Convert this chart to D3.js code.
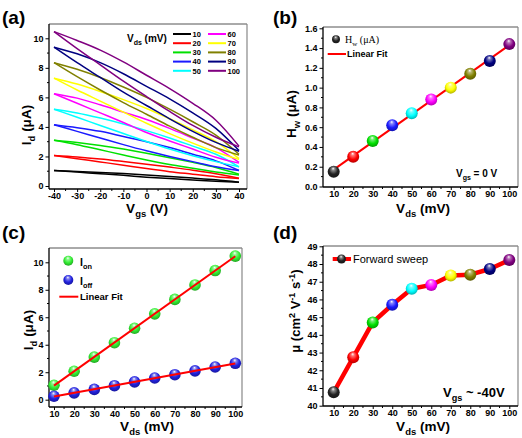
<!DOCTYPE html>
<html><head><meta charset="utf-8">
<script src="https://cdn.jsdelivr.net/npm/d3@7"></script>
<style>body{margin:0;background:#fff}svg{display:block}text{font-family:"Liberation Sans",Arial,sans-serif}</style>
</head><body><svg id="c" width="522" height="438"></svg>
<script>
// ---------- data ----------
const vgsPoints = [-40,-30,-20,-10,0,10,20,30,40];
const vdsLevels = [10,20,30,40,50,60,70,80,90,100];
const vdsColors = ["#000000","#ff0000","#00e000","#1a1aff","#00ffff","#ff00ff","#ffff00","#808000","#000080","#800080"];
// panel (a): transfer curves, one branch above, one below (µA)
const loopUpper = [
 [1.05,0.99,0.92,0.84,0.75,0.65,0.54,0.42,0.26],
 [2.07,1.97,1.83,1.66,1.48,1.28,1.07,0.83,0.52],
 [3.1,2.95,2.75,2.5,2.22,1.92,1.6,1.25,0.8],
 [4.15,3.95,3.7,3.35,3.0,2.6,2.15,1.7,1.05],
 [5.2,4.95,4.6,4.2,3.75,3.25,2.7,2.15,1.3],
 [6.25,5.95,5.5,5.0,4.5,3.9,3.25,2.6,1.6],
 [7.3,6.9,6.4,5.85,5.25,4.55,3.8,3.0,1.85],
 [8.35,7.9,7.35,6.7,6.0,5.2,4.35,3.45,2.15],
 [9.4,8.95,8.35,7.6,6.75,5.9,4.95,3.9,2.4],
 [10.45,9.85,9.2,8.4,7.5,6.6,5.6,4.45,2.7]
];
const loopLower = [
 [1.05,0.94,0.83,0.72,0.60,0.50,0.41,0.32,0.25],
 [2.07,1.85,1.63,1.41,1.18,0.97,0.8,0.63,0.5],
 [3.1,2.8,2.45,2.1,1.76,1.45,1.2,0.95,0.75],
 [4.15,3.7,3.25,2.8,2.38,2.0,1.65,1.3,1.05],
 [5.2,4.65,4.1,3.55,3.01,2.5,2.05,1.65,1.3],
 [6.25,5.6,4.95,4.3,3.62,3.05,2.5,1.95,1.55],
 [7.3,6.5,5.75,5.0,4.25,3.55,2.9,2.3,1.8],
 [8.35,7.4,6.5,5.65,4.86,4.05,3.3,2.6,2.1],
 [9.4,8.35,7.35,6.35,5.45,4.55,3.7,2.95,2.35],
 [10.45,9.3,8.2,7.1,6.06,5.05,4.1,3.3,2.65]
];
const hwValues = [0.15,0.30,0.46,0.62,0.74,0.88,1.00,1.14,1.27,1.44];
const ionValues = [1.05,2.07,3.1,4.15,5.2,6.25,7.3,8.35,9.4,10.45];
const ioffValues = [0.25,0.5,0.75,1.02,1.3,1.58,1.82,2.1,2.38,2.65];
const mobilityValues = [40.76,42.73,44.7,45.7,46.6,46.82,47.35,47.4,47.72,48.22];
const ticksA_x = [-40,-30,-20,-10,0,10,20,30,40];
const ticksA_y = [0,2,4,6,8,10];
const ticksVds = [10,20,30,40,50,60,70,80,90,100];
const ticksB_y = [0,0.2,0.4,0.6,0.8,1.0,1.2,1.4,1.6];
const ticksC_y = [0,2,4,6,8,10];
const ticksD_y = [40,41,42,43,44,45,46,47,48,49];

// ---------- helpers ----------
const svg = d3.select("#c");
const defs = svg.append("defs");
function sphereGrad(color, id){
  const g = defs.append("radialGradient").attr("id",id).attr("cx","0.5").attr("cy","0.45").attr("r","0.6").attr("fx","0.45").attr("fy","0.22");
  const c = d3.color(color);
  g.append("stop").attr("offset","0").attr("stop-color","#ffffff");
  g.append("stop").attr("offset","0.22").attr("stop-color",d3.interpolateRgb(color,"#ffffff")(0.45));
  g.append("stop").attr("offset","0.6").attr("stop-color",color);
  g.append("stop").attr("offset","1").attr("stop-color",c.darker(1.2).formatHex());
  return "url(#"+id+")";
}
const sphereFills = vdsColors.map((c,i)=>sphereGrad(c==="#000000"?"#222222":c,"sg"+i));
const greenFill = sphereGrad("#33ee33","sgGreen");
const blueFill = sphereGrad("#2222e0","sgBlue");

function rich(g, x, y, parts, o){
  const size=o.size;
  const t=g.append("text").attr("x",x).attr("y",y).attr("font-size",size)
    .attr("font-weight",o.weight||"bold").attr("text-anchor",o.anchor||"start").attr("fill","#000");
  if(o.family) t.style("font-family",o.family);
  if(o.rotate) t.attr("transform",`rotate(-90,${x},${y})`);
  let cur=0;
  parts.forEach(([s,k])=>{
    const target = k==="sub"? size*0.3 : k==="sup"? -size*0.42 : 0;
    const sp=t.append("tspan").attr("dy",target-cur).text(s);
    if(k) sp.attr("font-size",size*0.7);
    cur=target;
  });
  return t;
}

function panel(cfg){
  const g = svg.append("g");
  const {x,y,frame} = cfg;
  const mk = g.append("g").attr("stroke","#000").attr("stroke-width",1);
  cfg.xMinor.forEach(v=>mk.append("line").attr("x1",x(v)).attr("x2",x(v)).attr("y1",frame.b).attr("y2",frame.b+2));
  cfg.yMinor.forEach(v=>mk.append("line").attr("y1",y(v)).attr("y2",y(v)).attr("x1",frame.l).attr("x2",frame.l-2));
  const fx = cfg.xFmt||d3.format("d"), fy = cfg.yFmt||d3.format("d");
  const ax = g.append("g").attr("transform",`translate(0,${frame.b})`)
    .call(d3.axisBottom(x).tickValues(cfg.xTicks).tickSize(3).tickPadding(1).tickSizeOuter(0).tickFormat(fx));
  const ay = g.append("g").attr("transform",`translate(${frame.l},0)`)
    .call(d3.axisLeft(y).tickValues(cfg.yTicks).tickSize(3.5).tickPadding(2).tickSizeOuter(0).tickFormat(fy));
  [ax,ay].forEach(a=>{a.select(".domain").remove();
    a.selectAll("text").attr("font-size",9).attr("font-weight","bold").style("font-family",'"Liberation Sans",Arial,sans-serif').attr("fill","#000");
    a.selectAll("line").attr("stroke","#000").attr("stroke-width",1);});
  ax.selectAll("text").text(d=> fx(d).replace("−","-"));
  ay.selectAll("text").text(d=> fy(d).replace("−","-"));
  g.append("line").attr("x1",frame.l).attr("x2",frame.r).attr("y1",frame.t).attr("y2",frame.t).attr("stroke","#555").attr("stroke-width",1);
  g.append("line").attr("x1",frame.r).attr("x2",frame.r).attr("y1",frame.t).attr("y2",frame.b).attr("stroke","#888").attr("stroke-width",1.2);
  g.append("line").attr("x1",frame.l).attr("x2",frame.r).attr("y1",frame.b).attr("y2",frame.b).attr("stroke","#000").attr("stroke-width",1.3);
  g.append("line").attr("x1",frame.l).attr("x2",frame.l).attr("y1",frame.t).attr("y2",frame.b).attr("stroke","#000").attr("stroke-width",1.3);
  return g;
}
const minors = (a,b,s)=>d3.range(a,b+1e-9,s);

// ---------- panel (a) ----------
{
  const x = d3.scaleLinear().domain([-40,40]).range([54,239]);
  const y = d3.scaleLinear().domain([0,10]).range([186,38.3]);
  const g = panel({x,y,frame:{l:49,r:247,t:24,b:189},xTicks:ticksA_x,yTicks:ticksA_y,
    xMinor:minors(-35,35,10),yMinor:minors(1,9,2)});
  const line = d3.line().x((d,i)=>x(vgsPoints[i])).y(d=>y(d)).curve(d3.curveMonotoneX);
  vdsLevels.forEach((v,i)=>{
    [loopUpper[i],loopLower[i]].forEach(arr=>g.append("path").attr("d",line(arr)).attr("fill","none")
      .attr("stroke",vdsColors[i]).attr("stroke-width",1.5));
  });
  rich(g,127,41.5,[["V"],["ds","sub"],[" (mV)"]],{size:10});
  vdsLevels.forEach((v,i)=>{
    const col=Math.floor(i/5), row=i%5;
    const ly = 34+row*9.2;
    const lx = col? 208:173;
    g.append("line").attr("x1",lx).attr("x2",lx+18).attr("y1",ly).attr("y2",ly).attr("stroke",vdsColors[i]).attr("stroke-width",2);
    g.append("text").attr("x",lx+19.5).attr("y",ly+2.8).attr("font-size",7.5).attr("font-weight","bold").text(v);
  });
  rich(g,147,213,[["V"],["gs","sub"],[" (V)"]],{size:13.5,anchor:"middle"});
  rich(g,31,125,[["I"],["d","sub"],[" (μA)"]],{size:13.5,anchor:"middle",rotate:true});
  g.append("text").attr("x",2).attr("y",24).attr("font-size",19).attr("font-weight","bold").text("(a)");
}

function linFit(xs,ys){
  const mx=d3.mean(xs), my=d3.mean(ys);
  const b=d3.sum(xs,(v,i)=>(v-mx)*(ys[i]-my))/d3.sum(xs,v=>(v-mx)*(v-mx));
  return [b, my-b*mx];
}
// ---------- panel (b) ----------
{
  const x = d3.scaleLinear().domain([10,100]).range([333.7,509.3]);
  const y = d3.scaleLinear().domain([0,1.6]).range([186.5,28.3]);
  const g = panel({x,y,frame:{l:323,r:518,t:27,b:187},xTicks:ticksVds,yTicks:ticksB_y,
    xMinor:minors(15,95,10),yMinor:minors(0.1,1.5,0.2),yFmt:d3.format(".1f")});
  const [b,a]=linFit(vdsLevels,hwValues);
  g.append("line").attr("x1",x(10)).attr("x2",x(100)).attr("y1",y(a+b*10)).attr("y2",y(a+b*100)).attr("stroke","#ff0000").attr("stroke-width",2);
  vdsLevels.forEach((v,i)=>g.append("circle").attr("cx",x(v)).attr("cy",y(hwValues[i])).attr("r",6).attr("fill",sphereFills[i]));
  g.append("circle").attr("cx",336).attr("cy",39.3).attr("r",4).attr("fill",sphereFills[0]);
  rich(g,345,43,[["H"],["w","sub"],[" (μA)"]],{size:10,weight:"normal",family:'"Liberation Serif","Times New Roman",serif'});
  g.append("line").attr("x1",327.7).attr("x2",346).attr("y1",54).attr("y2",54).attr("stroke","#ff0000").attr("stroke-width",2);
  g.append("text").attr("x",347).attr("y",57.3).attr("font-size",9).attr("font-weight","bold").text("Linear Fit");
  rich(g,456,177,[["V"],["gs","sub"],[" = 0 V"]],{size:10});
  rich(g,423,213,[["V"],["ds","sub"],[" (mV)"]],{size:13.5,anchor:"middle"});
  rich(g,296,114,[["H"],["w","sub"],[" (μA)"]],{size:13.5,anchor:"middle",rotate:true});
  g.append("text").attr("x",273).attr("y",24).attr("font-size",19).attr("font-weight","bold").text("(b)");
}

// ---------- panel (c) ----------
{
  const x = d3.scaleLinear().domain([10,100]).range([54,235.3]);
  const y = d3.scaleLinear().domain([0,10]).range([399.7,262.3]);
  const g = panel({x,y,frame:{l:49,r:242,t:248,b:407},xTicks:ticksVds,yTicks:ticksC_y,
    xMinor:minors(15,95,10),yMinor:minors(1,9,2)});
  [[ionValues,greenFill],[ioffValues,blueFill]].forEach(([vals,fill])=>{
    vdsLevels.forEach((v,i)=>g.append("circle").attr("cx",x(v)).attr("cy",y(vals[i])).attr("r",5.8).attr("fill",fill));
  });
  [ionValues,ioffValues].forEach(vals=>{
    const [b,a]=linFit(vdsLevels,vals);
    g.append("line").attr("x1",x(10)).attr("x2",x(100)).attr("y1",y(a+b*10)).attr("y2",y(a+b*100)).attr("stroke","#ff0000").attr("stroke-width",2);
  });
  g.append("circle").attr("cx",68.3).attr("cy",260.7).attr("r",5).attr("fill",greenFill);
  rich(g,80,265.5,[["I"],["on","sub"]],{size:10.5});
  g.append("circle").attr("cx",68.3).attr("cy",280).attr("r",5).attr("fill",blueFill);
  rich(g,80,285,[["I"],["off","sub"]],{size:10.5});
  g.append("line").attr("x1",59.3).attr("x2",78.3).attr("y1",296.7).attr("y2",296.7).attr("stroke","#ff0000").attr("stroke-width",2);
  g.append("text").attr("x",80).attr("y",300).attr("font-size",9.5).attr("font-weight","bold").text("Linear Fit");
  rich(g,147,431,[["V"],["ds","sub"],[" (mV)"]],{size:13.5,anchor:"middle"});
  rich(g,33,330,[["I"],["d","sub"],[" (μA)"]],{size:13.5,anchor:"middle",rotate:true});
  g.append("text").attr("x",2).attr("y",239).attr("font-size",19).attr("font-weight","bold").text("(c)");
}

// ---------- panel (d) ----------
{
  const x = d3.scaleLinear().domain([10,100]).range([333.7,509.3]);
  const y = d3.scaleLinear().domain([40,49]).range([405.7,246.3]);
  const g = panel({x,y,frame:{l:323,r:518,t:246,b:406},xTicks:ticksVds,yTicks:ticksD_y,
    xMinor:minors(15,95,10),yMinor:minors(40.5,48.5,1)});
  const line = d3.line().x((d,i)=>x(vdsLevels[i])).y(d=>y(d));
  g.append("path").attr("d",line(mobilityValues)).attr("fill","none").attr("stroke","#ff0000").attr("stroke-width",4.5).attr("stroke-linejoin","round");
  vdsLevels.forEach((v,i)=>g.append("circle").attr("cx",x(v)).attr("cy",y(mobilityValues[i])).attr("r",6).attr("fill",sphereFills[i]));
  g.append("line").attr("x1",332.7).attr("x2",351).attr("y1",259).attr("y2",259).attr("stroke","#ff0000").attr("stroke-width",4);
  g.append("circle").attr("cx",341.5).attr("cy",259).attr("r",4.5).attr("fill",sphereFills[0]);
  g.append("text").attr("x",353).attr("y",263).attr("font-size",11).text("Forward sweep");
  rich(g,443,397,[["V"],["gs","sub"],[" ~ -40V"]],{size:13});
  rich(g,423,431,[["V"],["ds","sub"],[" (mV)"]],{size:13.5,anchor:"middle"});
  rich(g,300,311,[["μ (cm"],["2","sup"],[" V"],["-1","sup"],[" s"],["-1","sup"],[")"]],{size:13,anchor:"middle",rotate:true});
  g.append("text").attr("x",273).attr("y",239).attr("font-size",19).attr("font-weight","bold").text("(d)");
}
</script></body></html>
